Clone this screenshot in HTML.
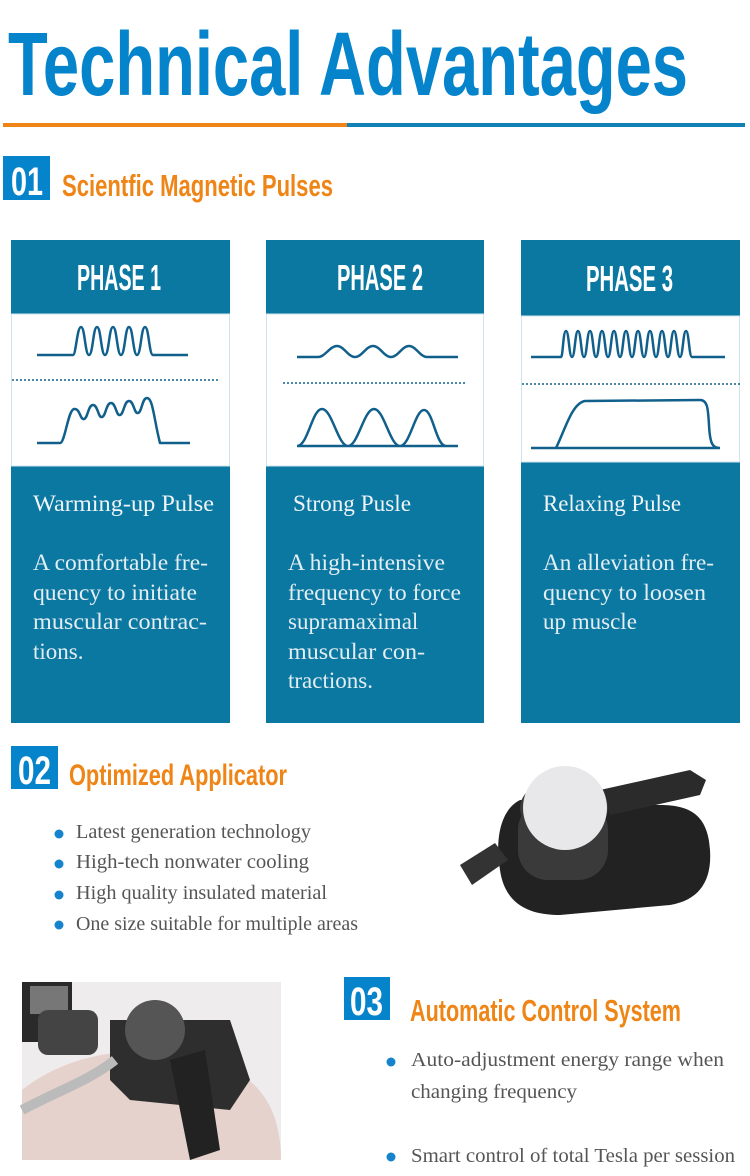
<!DOCTYPE html>
<html><head><meta charset="utf-8"><style>
html,body{margin:0;padding:0;background:#fff}
svg{display:block}
.c{font-family:"Liberation Sans",sans-serif;font-weight:bold}
.s{font-family:"Liberation Serif",serif}
</style></head><body>
<svg width="750" height="1176" viewBox="0 0 750 1176" xmlns="http://www.w3.org/2000/svg">
<rect width="750" height="1176" fill="#fff"/>
<text class="c" x="8" y="95" font-size="90" fill="#0584cc" textLength="680" lengthAdjust="spacingAndGlyphs">Technical Advantages</text>
<rect x="3" y="123" width="344" height="4" fill="#ee8516"/>
<rect x="347" y="123" width="398" height="4" fill="#1181b6"/>

<rect x="3" y="156" width="47" height="44" fill="#0584cc"/>
<text class="c" x="11" y="195" font-size="40" fill="#fff" textLength="32" lengthAdjust="spacingAndGlyphs">01</text>
<text class="c" x="62" y="196" font-size="31" fill="#ee8516" textLength="271" lengthAdjust="spacingAndGlyphs">Scientfic Magnetic Pulses</text>

<g fill="#0b78a2">
<rect x="11" y="240" width="219" height="74"/><rect x="11" y="466" width="219" height="257"/>
<rect x="266" y="240" width="218" height="74"/><rect x="266" y="466" width="218" height="257"/>
<rect x="521" y="240" width="219" height="76"/><rect x="521" y="462" width="219" height="261"/>
</g>
<rect x="11.5" y="314" width="218" height="152" fill="none" stroke="#cfe3ee"/>
<rect x="266.5" y="314" width="217" height="152" fill="none" stroke="#cfe3ee"/>
<rect x="521.5" y="316" width="218" height="146" fill="none" stroke="#cfe3ee"/>
<g class="c" font-size="36" fill="#fff">
<text x="77" y="290" textLength="84" lengthAdjust="spacingAndGlyphs">PHASE 1</text>
<text x="337" y="290" textLength="86" lengthAdjust="spacingAndGlyphs">PHASE 2</text>
<text x="586" y="291" textLength="87" lengthAdjust="spacingAndGlyphs">PHASE 3</text>
</g>

<g fill="none" stroke="#11608c" stroke-width="2.5" stroke-linejoin="round">
<path d="M37 355 H73 C76 355 77 327 81 327 C85 327 85 355 89 355 C93 355 93 327 97 327 C101 327 101 355 105 355 C109 355 109 327 113 327 C117 327 117 355 121 355 C125 355 125 327 129 327 C133 327 133 355 137 355 C141 355 141 327 145 327 C149 327 149 355 153 355 H188"/>
<path d="M37 443 H60 C65 443 68 410 74 409 C80 408 80 420 84 419 C88 418 88 405 93 405 C98 405 98 418 102 417 C106 416 106 403 111 403 C116 403 116 416 120 415 C124 414 124 401 129 401 C134 401 134 414 138 413 C142 412 142 398 147 398 C153 398 154 420 160 443 H190"/>
<path d="M297 357 H318 C325 357 330 346 337 346 C344 346 348 357 355 357 C362 357 366 346 373 346 C380 346 384 357 391 357 C398 357 402 346 409 346 C416 346 420 357 427 357 H458"/>
<path d="M297 446 C308 446 312 409 322 409 C332 409 338 446 348 446 C358 446 364 409 374 409 C384 409 390 446 400 446 C410 446 415 410 424 410 C433 410 436 446 446 446 M297 446 H458"/>
<path d="M531 357 H561 C563 357 563 331 566 331 C569 331 569 357 572 357 C575 357 575 331 578 331 C581 331 581 357 584 357 C587 357 587 331 590 331 C593 331 593 357 596 357 C599 357 599 331 602 331 C605 331 605 357 608 357 C611 357 611 331 614 331 C617 331 617 357 620 357 C623 357 623 331 626 331 C629 331 629 357 632 357 C635 357 635 331 638 331 C641 331 641 357 644 357 C647 357 647 331 650 331 C653 331 653 357 656 357 C659 357 659 331 662 331 C665 331 665 357 668 357 C671 357 671 331 674 331 C677 331 677 357 680 357 C683 357 683 331 686 331 C689 331 689 357 692 357 H725"/>
<path d="M531 448 H556 C565 430 572 403 585 401 L700 400 C708 400 708 410 709 425 C710 445 713 448 720 448 M556 448 H720"/>
</g>
<g stroke="#11608c" stroke-width="1.5" stroke-dasharray="2 2">
<line x1="12" y1="380" x2="218" y2="380"/>
<line x1="283" y1="383" x2="466" y2="383"/>
<line x1="522" y1="384" x2="740" y2="384"/>
</g>

<g class="s" fill="#eef4f7" font-size="23">
<text x="33" y="511" textLength="181" lengthAdjust="spacingAndGlyphs">Warming-up Pulse</text>
<text x="293" y="511" textLength="118" lengthAdjust="spacingAndGlyphs">Strong Pusle</text>
<text x="543" y="511" textLength="138" lengthAdjust="spacingAndGlyphs">Relaxing Pulse</text>
</g>
<g class="s" fill="#e3edf2" font-size="23">
<text x="33" y="570" textLength="175" lengthAdjust="spacingAndGlyphs">A comfortable fre-</text>
<text x="33" y="600" textLength="164" lengthAdjust="spacingAndGlyphs">quency to initiate</text>
<text x="33" y="629" textLength="174" lengthAdjust="spacingAndGlyphs">muscular contrac-</text>
<text x="33" y="659">tions.</text>
<text x="288" y="570" textLength="157" lengthAdjust="spacingAndGlyphs">A high-intensive</text>
<text x="288" y="600" textLength="173" lengthAdjust="spacingAndGlyphs">frequency to force</text>
<text x="288" y="629">supramaximal</text>
<text x="288" y="659" textLength="137" lengthAdjust="spacingAndGlyphs">muscular con-</text>
<text x="288" y="688">tractions.</text>
<text x="543" y="570" textLength="171" lengthAdjust="spacingAndGlyphs">An alleviation fre-</text>
<text x="543" y="600" textLength="163" lengthAdjust="spacingAndGlyphs">quency to loosen</text>
<text x="543" y="629">up muscle</text>
</g>

<rect x="11" y="746" width="47" height="43" fill="#0584cc"/>
<text class="c" x="18" y="784" font-size="40" fill="#fff" textLength="33" lengthAdjust="spacingAndGlyphs">02</text>
<text class="c" x="69" y="785" font-size="30" fill="#ee8516" textLength="218" lengthAdjust="spacingAndGlyphs">Optimized Applicator</text>
<g fill="#1584cc"><circle cx="59" cy="834" r="4.5"/><circle cx="59" cy="864" r="4.5"/><circle cx="59" cy="895" r="4.5"/><circle cx="59" cy="925" r="4.5"/></g>
<g class="s" fill="#555" font-size="20">
<text x="76" y="838" textLength="235" lengthAdjust="spacingAndGlyphs">Latest generation technology</text>
<text x="76" y="868" textLength="233" lengthAdjust="spacingAndGlyphs">High-tech nonwater cooling</text>
<text x="76" y="899" textLength="251" lengthAdjust="spacingAndGlyphs">High quality insulated material</text>
<text x="76" y="930" textLength="282" lengthAdjust="spacingAndGlyphs">One size suitable for multiple areas</text>
</g>

<!-- applicator -->
<path d="M520 800 C500 810 495 840 500 870 C505 905 530 915 560 915 L670 905 C700 900 712 880 710 850 C708 815 690 805 660 805 Z" fill="#222"/>
<path d="M600 790 L690 770 L706 780 L700 795 L610 815 Z" fill="#2b2b2b"/>
<path d="M460 865 L495 843 L508 860 L472 885 Z" fill="#333"/>
<rect x="518" y="800" width="90" height="80" rx="30" fill="#3a3a3a"/>
<ellipse cx="564" cy="808" rx="44" ry="30" fill="#3a3a3a"/>
<circle cx="565" cy="808" r="42" fill="#e8e8ea"/>

<!-- photo -->
<rect x="22" y="982" width="259" height="178" fill="#eeeced"/>
<path d="M22 1160 L22 1090 C60 1060 120 1040 200 1060 C260 1070 281 1110 281 1160 Z" fill="#e6d2cc"/>
<rect x="22" y="982" width="50" height="60" fill="#2a2a2a"/>
<rect x="30" y="986" width="38" height="28" fill="#777"/>
<path d="M110 1020 L230 1020 L250 1080 L230 1110 L130 1100 L110 1080 Z" fill="#2e2e2e"/>
<rect x="38" y="1010" width="60" height="45" rx="10" fill="#444"/>
<path d="M170 1060 L205 1050 L220 1150 L190 1160 Z" fill="#222"/>
<circle cx="155" cy="1030" r="30" fill="#555"/>
<path d="M22 1110 C60 1090 90 1080 115 1060" stroke="#bbb" stroke-width="10" fill="none"/>

<rect x="344" y="977" width="46" height="43" fill="#0584cc"/>
<text class="c" x="350" y="1015" font-size="40" fill="#fff" textLength="33" lengthAdjust="spacingAndGlyphs">03</text>
<text class="c" x="410" y="1021" font-size="31" fill="#ee8516" textLength="271" lengthAdjust="spacingAndGlyphs">Automatic Control System</text>
<g fill="#1584cc"><circle cx="391" cy="1062" r="4.5"/><circle cx="391" cy="1157" r="4.5"/></g>
<g class="s" fill="#555" font-size="20.5">
<text x="411" y="1066" textLength="313" lengthAdjust="spacingAndGlyphs">Auto-adjustment energy range  when</text>
<text x="411" y="1098" textLength="166" lengthAdjust="spacingAndGlyphs">changing frequency</text>
<text x="411" y="1162" textLength="324" lengthAdjust="spacingAndGlyphs">Smart control of total Tesla per session</text>
</g>
</svg>
</body></html>
